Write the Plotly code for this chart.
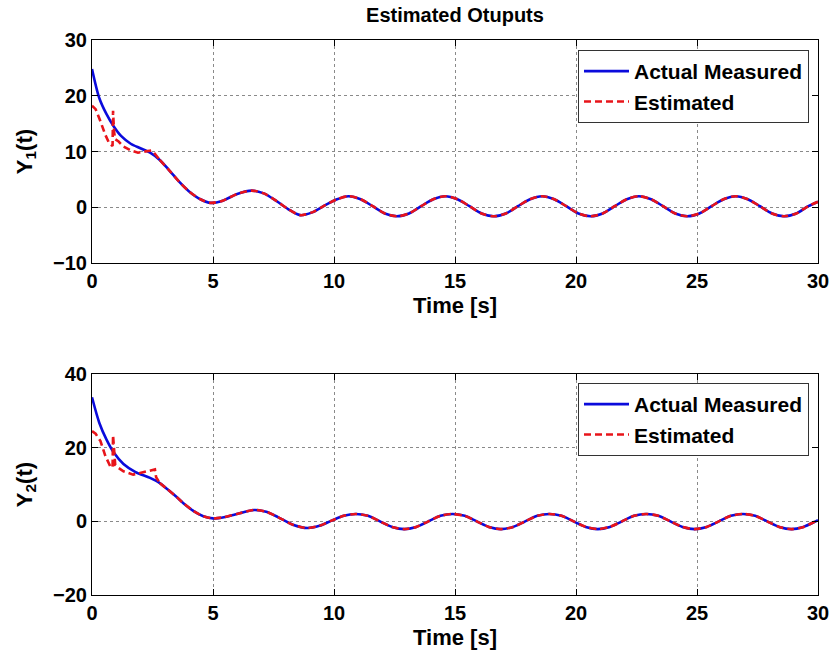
import plotly.graph_objects as go
from plotly.subplots import make_subplots

# ---- Output 1 -------------------------------------------------------------
t_y1 = [0.0, 0.3, 0.6, 0.9, 1.2, 1.6, 2.0, 2.4, 2.8, 3.2, 3.6, 4.0, 4.5, 4.9,
        5.4, 6.0, 6.6, 7.1, 7.6, 8.1, 8.6, 9.1, 9.6, 10.1,
        10.6, 11.1, 11.6, 12.1, 12.6, 13.1, 13.6, 14.1,
        14.6, 15.1, 15.6, 16.1, 16.6, 17.1, 17.6, 18.1,
        18.6, 19.1, 19.6, 20.1, 20.6, 21.1, 21.6, 22.1,
        22.6, 23.1, 23.6, 24.1, 24.6, 25.1, 25.6, 26.1,
        26.6, 27.1, 27.6, 28.1, 28.6, 29.1, 29.6, 30.0]
y1_actual = [24.8, 19.6, 16.7, 14.5, 12.8, 11.4, 10.6, 9.8, 8.5, 6.6, 4.6, 2.9, 1.4, 0.8,
             1.2, 2.4, 3.0, 2.5, 1.2, -0.3, -1.4, -0.9, 0.3, 1.4,
             2.0, 1.45, 0.2, -1.1, -1.6, -1.1, 0.2, 1.45,
             2.0, 1.45, 0.2, -1.1, -1.6, -1.1, 0.2, 1.45,
             2.0, 1.45, 0.2, -1.1, -1.6, -1.1, 0.2, 1.45,
             2.0, 1.45, 0.2, -1.1, -1.6, -1.1, 0.2, 1.45,
             2.0, 1.45, 0.2, -1.1, -1.6, -1.1, 0.2, 1.0]

# estimator transient (afterwards it follows the measurement)
t_y1_est_head = [0.0, 0.15, 0.35, 0.55, 0.72, 0.85, 0.87, 0.91, 0.96, 1.1, 1.3,
                 1.6, 1.9, 2.2, 2.45, 2.6, 2.8]
y1_est_head = [18.2, 17.6, 15.4, 13.0, 11.4, 11.0, 17.3, 13.6, 12.2, 11.8, 10.9,
               10.2, 9.8, 10.0, 10.2, 9.6, 8.5]

# ---- Output 2 -------------------------------------------------------------
t_y2 = [0.0, 0.3, 0.6, 0.9, 1.3, 1.8, 2.4, 2.8, 3.1, 3.5, 3.8, 4.2, 4.6, 5.0,
        5.5, 6.1, 6.7, 7.2, 7.7, 8.3, 8.9, 9.4, 9.9, 10.4,
        10.9, 11.4, 11.9, 12.4, 12.9, 13.4, 13.9, 14.4,
        14.9, 15.4, 15.9, 16.4, 16.9, 17.4, 17.9, 18.4,
        18.9, 19.4, 19.9, 20.4, 20.9, 21.4, 21.9, 22.4,
        22.9, 23.4, 23.9, 24.4, 24.9, 25.4, 25.9, 26.4,
        26.9, 27.4, 27.9, 28.4, 28.9, 29.4, 29.9, 30.0]
y2_actual = [33.7, 26.8, 22.2, 18.7, 15.6, 13.4, 11.8, 10.4, 8.8, 6.6, 4.8, 2.8, 1.4, 0.8,
             1.2, 2.2, 3.1, 2.6, 1.1, -0.9, -1.8, -1.2, 0.2, 1.5,
             2.0, 1.5, 0.0, -1.5, -2.1, -1.5, 0.0, 1.5,
             2.0, 1.5, 0.0, -1.5, -2.1, -1.5, 0.0, 1.5,
             2.0, 1.5, 0.0, -1.5, -2.1, -1.5, 0.0, 1.5,
             2.0, 1.5, 0.0, -1.5, -2.1, -1.5, 0.0, 1.5,
             2.0, 1.5, 0.0, -1.5, -2.1, -1.5, 0.0, 0.3]

t_y2_est_head = [0.0, 0.15, 0.35, 0.55, 0.75, 0.85, 0.87, 0.91, 0.96, 1.1, 1.3,
                 1.7, 2.0, 2.3, 2.6, 2.65, 2.8]
y2_est_head = [24.5, 23.8, 21.8, 17.8, 15.0, 14.6, 23.4, 18.0, 15.3, 14.5, 13.6,
               12.7, 13.2, 13.8, 14.1, 12.0, 10.4]

x_ticks = [0, 5, 10, 15, 20, 25, 30]
y1_ticks = [-10, 0, 10, 20, 30]
y2_ticks = [-20, 0, 20, 40]

FONT = "Liberation Sans, Arial, sans-serif"
BLUE = "#0b0bdc"
RED = "#e8141a"
LW = 2.6
DASH = "7px,4px"


def tail(t, y, t0):
    """Part of the measured signal after the estimator has converged."""
    pairs = [(a, b) for a, b in zip(t, y) if a >= t0]
    return [p[0] for p in pairs], [p[1] for p in pairs]


fig = make_subplots(rows=2, cols=1, vertical_spacing=0.0)

panels = [
    (1, t_y1, y1_actual, t_y1_est_head, y1_est_head, "legend"),
    (2, t_y2, y2_actual, t_y2_est_head, y2_est_head, "legend2"),
]
for row, t, ya, th, yh, leg in panels:
    fig.add_trace(go.Scatter(x=t, y=ya, mode="lines", name="Actual Measured",
                             line=dict(color=BLUE, width=LW, shape="spline", smoothing=0.8),
                             legend=leg), row=row, col=1)
    fig.add_trace(go.Scatter(x=th, y=yh, mode="lines", name="Estimated",
                             line=dict(color=RED, width=LW, dash=DASH),
                             legend=leg, legendgroup="est" + str(row)), row=row, col=1)
    tt, yt = tail(t, ya, th[-1])
    fig.add_trace(go.Scatter(x=tt, y=yt, mode="lines", name="Estimated",
                             line=dict(color=RED, width=LW, dash=DASH,
                                       shape="spline", smoothing=0.8),
                             legend=leg, legendgroup="est" + str(row),
                             showlegend=False), row=row, col=1)

axis_common = dict(
    showline=True, linecolor="black", linewidth=1, mirror="ticks",
    ticks="inside", ticklen=6, tickcolor="black", tickwidth=1,
    showgrid=True, gridcolor="#8a8a8a", griddash="dot", gridwidth=1,
    zeroline=False, automargin=False,
    tickfont=dict(family=FONT, size=20, color="black", weight="bold"),
)
title_font = dict(family=FONT, size=22, color="black", weight="bold")

fig.update_xaxes(**axis_common, range=[0, 30], tickvals=x_ticks,
                 title=dict(text="Time [s]", font=title_font, standoff=6))
fig.update_yaxes(**axis_common)
fig.update_yaxes(range=[-10, 30], tickvals=y1_ticks,
                 title=dict(text="Y<sub>1</sub>(t)", font=title_font, standoff=14),
                 row=1, col=1)
fig.update_yaxes(range=[-20, 40], tickvals=y2_ticks,
                 title=dict(text="Y<sub>2</sub>(t)", font=title_font, standoff=14),
                 row=2, col=1)

fig.update_layout(
    xaxis=dict(domain=[0, 1]), xaxis2=dict(domain=[0, 1]),
    yaxis=dict(domain=[0.598, 1.0]), yaxis2=dict(domain=[0.0, 0.398]),
)

legend_common = dict(
    xref="paper", yref="paper", x=0.9876, xanchor="right", yanchor="top",
    bgcolor="white", bordercolor="#333333", borderwidth=1,
    font=dict(family=FONT, size=21, color="black", weight="bold"),
    tracegroupgap=0, itemwidth=45,
)

fig.update_layout(
    width=834, height=656,
    margin=dict(l=92, r=16, t=40, b=61),
    paper_bgcolor="white", plot_bgcolor="white",
    title=dict(text="Estimated Otuputs", x=0.5, xref="paper", xanchor="center",
               y=1 - 15 / 656, yref="container", yanchor="middle",
               font=dict(family=FONT, size=20, color="black", weight="bold")),
    legend=dict(**legend_common, y=0.982),
    legend2=dict(**legend_common, y=0.382),
    showlegend=True,
)

fig.write_html("out.html")
